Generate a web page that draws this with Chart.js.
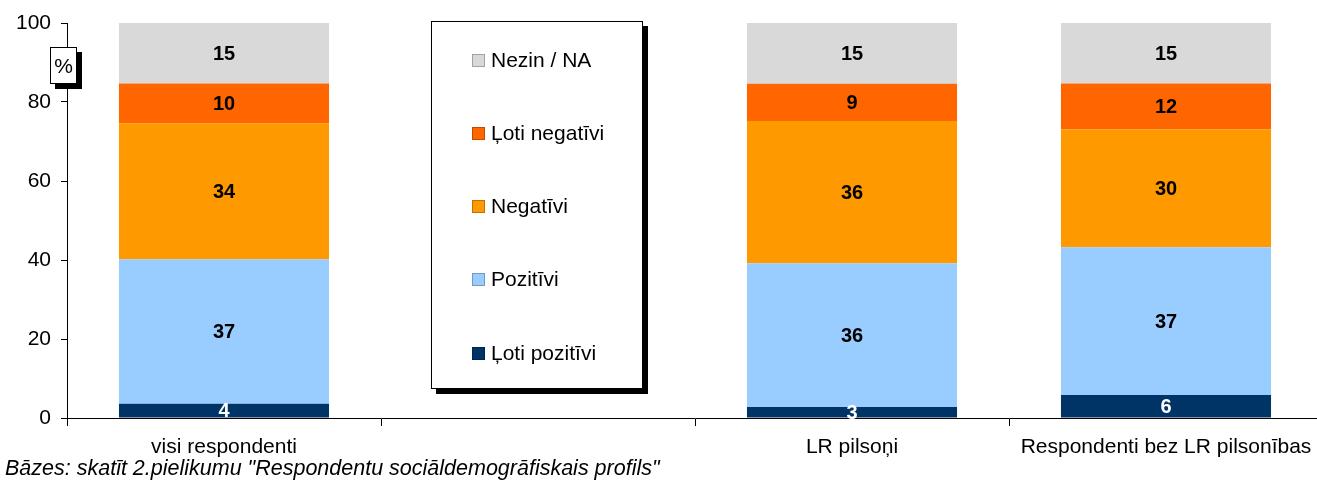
<!DOCTYPE html>
<html>
<head>
<meta charset="utf-8">
<script src="https://cdn.jsdelivr.net/npm/chart.js@4/dist/chart.umd.min.js"></script>
<style>
  body { margin: 0; background: #fff; font-family: Arial, "Liberation Sans", sans-serif; }
  #wrap { position: relative; width: 1317px; height: 483px; overflow: hidden; }
  #legend { position: absolute; left: 431px; top: 21px; width: 210px; height: 366px; border: 1px solid #000; background: #fff; box-shadow: 5px 5px 0 #000; }
  .item { position: absolute; left: 40px; font-size: 21px; line-height: 24px; color: #000; white-space: nowrap; }
  .sw { display: inline-block; width: 13px; height: 13px; margin-right: 6px; vertical-align: 0px; box-sizing: border-box; border: 1px solid rgba(0,0,0,0.25); }
  #pct { position: absolute; left: 50px; top: 47px; width: 25px; height: 35px; border: 1px solid #000; background: #fff; box-shadow: 5px 5px 0 #000; font-size: 21px; text-align: center; line-height: 35px; }
  #note { position: absolute; left: 5px; top: 458px; font-size: 21.5px; line-height: 1; font-style: italic; color: #000; white-space: nowrap; }
</style>
</head>
<body>
<div id="wrap">
  <canvas id="myChart" width="1323" height="483"></canvas>
  <div id="legend"></div>
  <div id="pct">%</div>
  <div id="note">Bāzes: skatīt 2.pielikumu "Respondentu sociāldemogrāfiskais profils"</div>
</div>
<script>
const categories = ["visi respondenti", "", "LR pilsoņi", "Respondenti bez LR pilsonības"]
const seriesNames = ["Ļoti pozitīvi", "Pozitīvi", "Negatīvi", "Ļoti negatīvi", "Nezin / NA"]
const seriesColors = ["#003366", "#99CCFF", "#FF9900", "#FF6600", "#D9D9D9"]
const labelColors = ["#fff", "#000", "#000", "#000", "#000"]

const lotiPozitivi = [3.6, null, 2.8, 5.8]
const pozitivi = [36.6, null, 36.4, 37.4]
const negativi = [34.4, null, 36.0, 29.9]
const lotiNegativi = [10.1, null, 9.4, 11.6]
const nezin = [15.3, null, 15.4, 15.3]
const yTicks = [0, 20, 40, 60, 80, 100]

const seriesValues = [lotiPozitivi, pozitivi, negativi, lotiNegativi, nezin]
const font = "Arial, 'Liberation Sans', sans-serif"

const $ctx = document.getElementById("myChart")
const $legend = document.querySelector("#legend")

// numbers inside the bar segments
const valueLabels = {
    id: "valueLabels",
    afterDatasetsDraw(chart) {
        const c = chart.ctx
        c.save()
        c.font = "bold 20px " + font
        c.textAlign = "center"
        c.textBaseline = "middle"
        chart.data.datasets.forEach((ds, i) => {
            chart.getDatasetMeta(i).data.forEach((bar, j) => {
                if (ds.data[j] == null) return
                const p = bar.getCenterPoint()
                c.fillStyle = labelColors[i]
                c.fillText(Math.round(ds.data[j]), p.x, p.y + 1)
            })
        })
        c.restore()
    }
}

const chart = new Chart($ctx, {
    type: "bar",
    data: {
        labels: categories,
        datasets: seriesNames.map((name, i) => ({
            label: name,
            data: seriesValues[i],
            backgroundColor: seriesColors[i],
            borderWidth: 0,
            categoryPercentage: 1,
            barPercentage: 0.669
        }))
    },
    options: {
        responsive: false,
        animation: false,
        layout: { padding: { top: 23, right: 0, left: 0, bottom: 0 } },
        plugins: { legend: { display: false }, tooltip: { enabled: false } },
        scales: {
            x: {
                stacked: true,
                offset: true,
                grid: { display: true, drawOnChartArea: false, offset: true, tickLength: 8, color: "#000" },
                border: { color: "#000", width: 1 },
                ticks: { color: "#000", padding: 9, maxRotation: 0, font: { size: 21, family: font } },
                afterFit: (s) => { s.height = 65 }
            },
            y: {
                stacked: true,
                min: 0,
                max: 100,
                afterBuildTicks: (s) => { s.ticks = yTicks.map(v => ({ value: v })) },
                grid: { display: true, drawOnChartArea: false, tickLength: 6, color: "#000" },
                border: { color: "#000", width: 1 },
                ticks: { color: "#000", padding: 10, font: { size: 21, family: font } },
                afterFit: (s) => { s.width = 67 }
            }
        }
    },
    plugins: [valueLabels]
})

// legend box, top entry = top segment
const tops = [60, 133, 206, 279, 353]
const $fragment = document.createDocumentFragment()
seriesNames.slice().reverse().forEach((name, k) => {
    const i = seriesNames.length - 1 - k
    const $item = document.createElement("div")
    $item.className = "item"
    $item.style.top = (tops[k] - 22 - 12) + "px"
    $item.innerHTML = `<span class="sw" style="background:${seriesColors[i]}"></span>${name}`
    $fragment.appendChild($item)
})
$legend.appendChild($fragment)
</script>
</body>
</html>
